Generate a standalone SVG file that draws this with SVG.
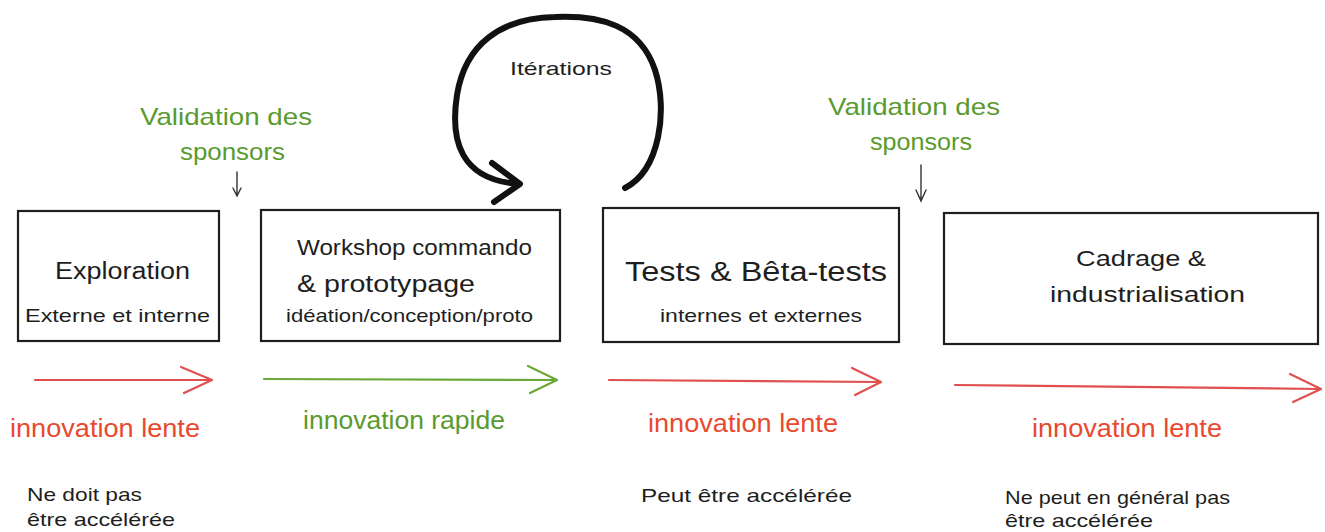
<svg xmlns="http://www.w3.org/2000/svg" width="1325" height="532" viewBox="0 0 1325 532">
<style>
text{font-family:"Liberation Sans","DejaVu Sans",sans-serif;}
.box{fill:#fff;stroke:#1e1e1e;stroke-width:2.2;}
.t{fill:#1e1e1e;}
.red{fill:#e8492f;}
.green{fill:#5a9a2e;}
.note{fill:#1e1e1e;}
.ar{fill:none;stroke-linecap:round;stroke-linejoin:round;stroke-width:2.2;}
.ared{stroke:#e05050;}
.agreen{stroke:#6aa83a;}
</style>
<rect width="1325" height="532" fill="#fff"/>
<g id="connectors">
<path d="M625,188 C660,170 668,110 655,70 C640,25 600,15 555,17 C500,18 465,45 457,95 C450,140 460,180 519,184" fill="none" stroke="#111" stroke-width="6" stroke-linecap="round"/>
<path d="M492,163 L520,184 L494,202" fill="none" stroke="#111" stroke-width="6" stroke-linecap="round" stroke-linejoin="round"/>
<path d="M237,172 L237,195 M233,188 L237,196 L241,188" fill="none" stroke="#333" stroke-width="1.4" stroke-linecap="round"/>
<path d="M921,165 L921,200 M916,190 L921,201 L926,190" fill="none" stroke="#333" stroke-width="1.4" stroke-linecap="round"/>
<path class="ar ared" d="M35,380 L211,380 M181,367 L212,380 L184,393"/>
<path class="ar agreen" d="M264,379 L556,380 M528,366 L557,380 L530,393"/>
<path class="ar ared" d="M609,380 L880,382 M852,368 L881,382 L855,395"/>
<path class="ar ared" d="M955,385 L1320,389 M1290,374 L1321,389 L1293,402"/>
</g>
<g id="exploration">
<rect class="box" x="18" y="211" width="201" height="130"/>
<text class="t" x="55" y="279" font-size="23" textLength="135" lengthAdjust="spacingAndGlyphs">Exploration</text>
<text class="t" x="25" y="322" font-size="19" textLength="185" lengthAdjust="spacingAndGlyphs">Externe et interne</text>
</g>
<g id="workshop">
<rect class="box" x="261" y="210" width="299" height="131"/>
<text x="297" y="255" font-size="22" class="note" textLength="235" lengthAdjust="spacingAndGlyphs">Workshop commando</text>
<text x="297" y="292" font-size="23" class="note" textLength="178" lengthAdjust="spacingAndGlyphs">&amp; prototypage</text>
<text class="t" x="286" y="322" font-size="19" textLength="247" lengthAdjust="spacingAndGlyphs">idéation/conception/proto</text>
</g>
<g id="tests">
<rect class="box" x="603" y="208" width="296" height="134"/>
<text class="t" x="625" y="281" font-size="27" textLength="262" lengthAdjust="spacingAndGlyphs">Tests &amp; Bêta-tests</text>
<text class="t" x="660" y="322" font-size="19" textLength="202" lengthAdjust="spacingAndGlyphs">internes et externes</text>
</g>
<g id="cadrage">
<rect class="box" x="944" y="213" width="374" height="131"/>
<text class="t" x="1076" y="266" font-size="22" textLength="130" lengthAdjust="spacingAndGlyphs">Cadrage &amp;</text>
<text class="t" x="1050" y="302" font-size="22" textLength="195" lengthAdjust="spacingAndGlyphs">industrialisation</text>
</g>
<g id="labels">
<text class="green" x="140" y="125" font-size="24" textLength="172" lengthAdjust="spacingAndGlyphs">Validation des</text>
<text class="green" x="180" y="160" font-size="24" textLength="105" lengthAdjust="spacingAndGlyphs">sponsors</text>
<text class="green" x="828" y="115" font-size="24" textLength="172" lengthAdjust="spacingAndGlyphs">Validation des</text>
<text class="green" x="870" y="150" font-size="24" textLength="102" lengthAdjust="spacingAndGlyphs">sponsors</text>
<text class="t" x="510" y="75" font-size="19" textLength="102" lengthAdjust="spacingAndGlyphs">Itérations</text>
<text class="red" x="10" y="437" font-size="25" textLength="190" lengthAdjust="spacingAndGlyphs">innovation lente</text>
<text class="green" x="303" y="429" font-size="25" textLength="202" lengthAdjust="spacingAndGlyphs">innovation rapide</text>
<text class="red" x="648" y="432" font-size="25" textLength="190" lengthAdjust="spacingAndGlyphs">innovation lente</text>
<text class="red" x="1032" y="437" font-size="25" textLength="190" lengthAdjust="spacingAndGlyphs">innovation lente</text>
<text class="note" x="27" y="501" font-size="19" textLength="115" lengthAdjust="spacingAndGlyphs">Ne doit pas</text>
<text class="note" x="27" y="526" font-size="19" textLength="148" lengthAdjust="spacingAndGlyphs">être accélérée</text>
<text class="note" x="641" y="502" font-size="19" textLength="211" lengthAdjust="spacingAndGlyphs">Peut être accélérée</text>
<text class="note" x="1005" y="504" font-size="19" textLength="225" lengthAdjust="spacingAndGlyphs">Ne peut en général pas</text>
<text class="note" x="1005" y="527" font-size="19" textLength="148" lengthAdjust="spacingAndGlyphs">être accélérée</text>
</g>
</svg>
